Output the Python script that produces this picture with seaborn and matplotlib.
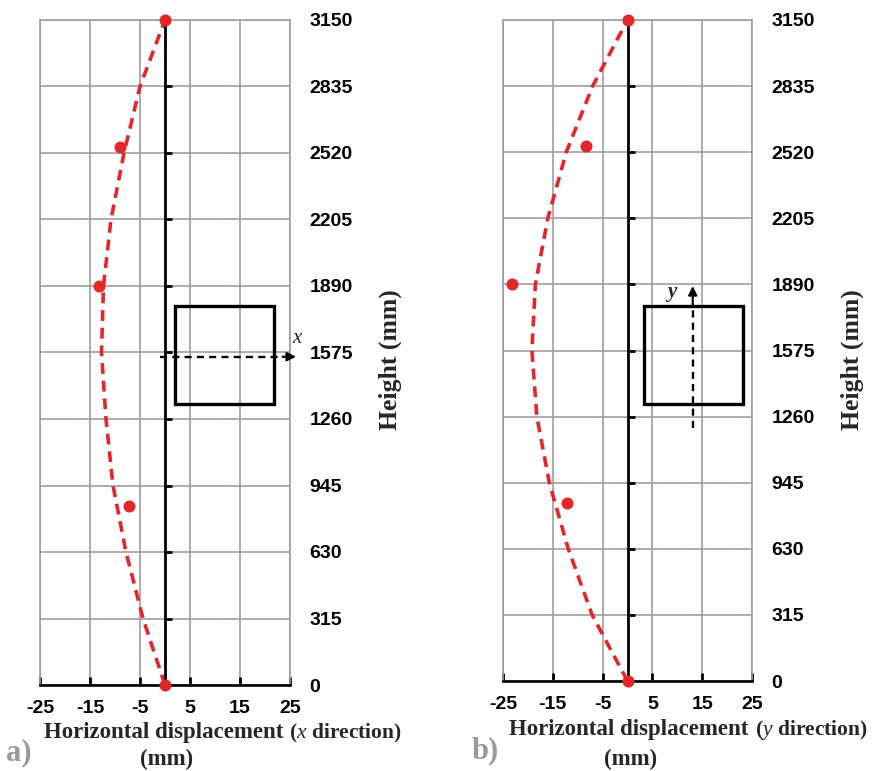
import matplotlib
matplotlib.use("Agg")
import matplotlib.pyplot as plt
import seaborn as sns
from matplotlib.patches import Rectangle

# ---- data ----
heights = [0, 315, 630, 945, 1260, 1575, 1890, 2205, 2520, 2835, 3150]
curve_x_dir = [0, -4.4, -7.8, -10.4, -11.8, -12.7, -12.3, -10.8, -8.2, -5.0, 0]
curve_y_dir = [0, -7.1, -11.9, -15.7, -18.2, -19.2, -18.5, -16.0, -12.3, -7.0, 0]
meas_heights = [0, 850, 1890, 2550, 3150]
meas_x_dir = [0, -7.3, -13.3, -9.0, 0]
meas_y_dir = [0, -12.1, -23.1, -8.3, 0]
x_ticks = [-25, -15, -5, 5, 15, 25]
y_ticks = [0, 315, 630, 945, 1260, 1575, 1890, 2205, 2520, 2835, 3150]

sns.set_style("white")
plt.rcParams['font.family'] = ['Liberation Sans', 'DejaVu Sans']
plt.rcParams['axes.unicode_minus'] = False
plt.rcParams['mathtext.fontset'] = 'custom'
plt.rcParams['mathtext.it'] = 'Liberation Serif:italic'
plt.rcParams['mathtext.rm'] = 'Liberation Serif'

W, H = 872, 771
fig = plt.figure(figsize=(W / 100, H / 100), dpi=100)
fig.patch.set_facecolor('white')

RED = '#e2262a'
GRID = '#a39c9c'
SERIF = 'Liberation Serif'


def px_axes(l, r, t, b):
    return fig.add_axes([l / W, (H - b) / H, (r - l) / W, (b - t) / H])


def fig_txt(x, y, s, **kw):
    fig.text(x / W, 1 - y / H, s, **kw)


def draw_panel(ax, curve, meas):
    ax.set_xlim(-25, 25)
    ax.set_ylim(0, 3150)
    ax.set_facecolor('white')
    ax.set_axisbelow(True)
    ax.set_xticks(x_ticks)
    ax.set_yticks(y_ticks)
    ax.grid(True, color=GRID, lw=1.2)
    for s in ['left', 'right', 'top']:
        ax.spines[s].set_visible(True)
        ax.spines[s].set_color(GRID)
        ax.spines[s].set_linewidth(1.2)
    ax.spines['bottom'].set_visible(True)
    ax.spines['bottom'].set_color('black')
    ax.spines['bottom'].set_linewidth(1.9)
    ax.spines['bottom'].set_zorder(5)

    ax.yaxis.tick_right()
    ax.tick_params(axis='x', direction='in', length=6, width=2.0, color='black',
                   pad=11, labelsize=14, bottom=True)
    ax.tick_params(axis='y', length=0, pad=14, labelsize=14, right=True, left=False)
    for lbl in ax.get_xticklabels() + ax.get_yticklabels():
        lbl.set_fontweight('bold')
        lbl.set_color('black')

    # central black line with small ticks at x = 0
    sec = ax.secondary_yaxis(0.5)
    sec.set_yticks(y_ticks[1:-1])
    sec.tick_params(axis='y', length=5, width=2.0, direction='out', color='black',
                    labelright=False, labelleft=False, right=True, left=False)
    sec.set_zorder(5)
    for s in ['left', 'right']:
        sec.spines[s].set_color('black')
        sec.spines[s].set_linewidth(2.0)

    sns.lineplot(x=curve, y=heights, sort=False, estimator=None, color=RED,
                 lw=2.6, linestyle=(0, (3.0, 1.9)), ax=ax, zorder=3, clip_on=False)
    sns.scatterplot(x=meas, y=meas_heights, color=RED, s=75, linewidth=0,
                    ax=ax, zorder=6, clip_on=False)
    ax.set_xlabel('')
    ax.set_ylabel('')


# ---- panel a ----
ax1 = px_axes(40, 290, 20, 685)
draw_panel(ax1, curve_x_dir, meas_x_dir)
ax1.add_patch(Rectangle((2, 1331), 19.8, 464, fill=False, lw=2.4, ec='black', zorder=4))
ax1.plot([-1, 23.8], [1555, 1555], color='black', lw=1.7, ls=(0, (3, 2.2)),
         clip_on=False, zorder=4)
ax1.annotate('', xy=(26.2, 1555), xytext=(23.5, 1555),
             arrowprops=dict(arrowstyle='-|>', lw=1.5, color='black',
                             mutation_scale=13, shrinkA=0, shrinkB=0),
             annotation_clip=False, zorder=4)
ax1.text(26.4, 1640, 'x', family=SERIF, style='italic', fontsize=15,
         ha='center', va='center', clip_on=False)
ax1.text(1.4, 0.49, 'Height (mm)', rotation=90, transform=ax1.transAxes,
         ha='center', va='center', family=SERIF, weight='bold', fontsize=18.5)

fig_txt(164, 738, 'Horizontal displacement', ha='center', va='baseline',
        family=SERIF, weight='bold', fontsize=16.5)
fig_txt(289, 738, '($\\mathit{x}$ direction)', ha='left', va='baseline',
        family=SERIF, weight='bold', fontsize=15.5)
fig_txt(167, 765, '(mm)', ha='center', va='baseline',
        family=SERIF, weight='bold', fontsize=16.5)
fig_txt(6, 760, 'a)', ha='left', va='baseline', family=SERIF, weight='bold',
        fontsize=22, color='#9a9a9a')

# ---- panel b ----
ax2 = px_axes(503, 752, 20, 681)
draw_panel(ax2, curve_y_dir, meas_y_dir)
ax2.add_patch(Rectangle((3.3, 1319), 19.8, 468, fill=False, lw=2.4, ec='black', zorder=4))
ax2.plot([13.1, 13.1], [1206, 1780], color='black', lw=1.7, ls=(0, (3, 2.2)),
         clip_on=False, zorder=4)
ax2.annotate('', xy=(13.1, 1882), xytext=(13.1, 1790),
             arrowprops=dict(arrowstyle='-|>', lw=1.5, color='black',
                             mutation_scale=13, shrinkA=0, shrinkB=0),
             annotation_clip=False, zorder=4)
ax2.text(8.9, 1855, 'y', family=SERIF, style='italic', weight='bold', fontsize=15,
         ha='center', va='center', clip_on=False)
ax2.text(1.402, 0.486, 'Height (mm)', rotation=90, transform=ax2.transAxes,
         ha='center', va='center', family=SERIF, weight='bold', fontsize=18.5)

fig_txt(629, 735, 'Horizontal displacement', ha='center', va='baseline',
        family=SERIF, weight='bold', fontsize=16.5)
fig_txt(755, 735, '($\\mathit{y}$ direction)', ha='left', va='baseline',
        family=SERIF, weight='bold', fontsize=15.5)
fig_txt(631, 765, '(mm)', ha='center', va='baseline',
        family=SERIF, weight='bold', fontsize=16.5)
fig_txt(472, 758, 'b)', ha='left', va='baseline', family=SERIF, weight='bold',
        fontsize=22, color='#9a9a9a')

fig.savefig('out.png', dpi=100, facecolor='white')
